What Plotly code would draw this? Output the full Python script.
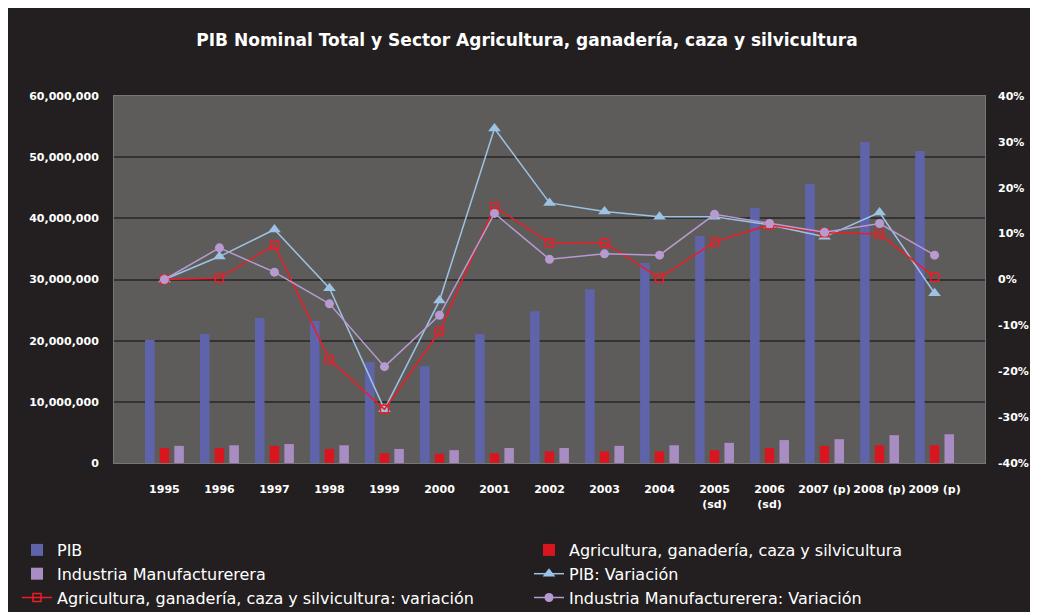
import plotly.graph_objects as go

years = ["1995", "1996", "1997", "1998", "1999", "2000", "2001", "2002", "2003",
         "2004", "2005<br>(sd)", "2006<br>(sd)", "2007 (p)", "2008 (p)", "2009 (p)"]

pib = [20.1e6, 21.1e6, 23.7e6, 23.2e6, 16.5e6, 15.8e6, 21.1e6, 24.8e6, 28.4e6,
       32.7e6, 37.1e6, 41.7e6, 45.6e6, 52.5e6, 51.0e6]
agri = [2.45e6, 2.45e6, 2.8e6, 2.3e6, 1.6e6, 1.5e6, 1.6e6, 1.9e6, 1.9e6,
        1.9e6, 2.1e6, 2.45e6, 2.8e6, 2.9e6, 2.9e6]
ind = [2.8e6, 2.9e6, 3.1e6, 2.9e6, 2.3e6, 2.1e6, 2.45e6, 2.45e6, 2.8e6,
       2.9e6, 3.3e6, 3.75e6, 3.9e6, 4.55e6, 4.7e6]

pib_var = [0.0, 5.0, 10.9, -1.9, -28.3, -4.6, 32.9, 16.7, 14.8, 13.7, 13.7, 11.9, 9.3, 14.6, -3.0]
agri_var = [0.0, 0.3, 7.5, -17.5, -28.3, -11.4, 15.9, 8.0, 8.0, 0.3, 8.2, 11.9, 10.2, 9.9, 0.5]
ind_var = [0.0, 6.9, 1.6, -5.3, -19.0, -7.8, 14.4, 4.4, 5.6, 5.3, 14.2, 12.2, 10.3, 12.2, 5.3]

y2_ticks = [-40, -30, -20, -10, 0, 10, 20, 30, 40]
y2_labels = ["-40%", "-30%", "-20%", "-10%", "0%", "10%", "20%", "30%", "40%"]

BG = "#231f20"
PLOT = "#5d5c5a"
FONT = "DejaVu Sans"
TICKFONT = dict(family=FONT, size=11, color="white", weight="bold")

fig = go.Figure()
fig.add_trace(go.Bar(x=years, y=pib, name="PIB", legend="legend",
                     marker=dict(color="#5f63aa", line=dict(width=0))))
fig.add_trace(go.Bar(x=years, y=agri, name="Agricultura, ganadería, caza y silvicultura", legend="legend2",
                     marker=dict(color="#d9161f", line=dict(width=0))))
fig.add_trace(go.Bar(x=years, y=ind, name="Industria Manufacturerera", legend="legend",
                     marker=dict(color="#a88cc2", line=dict(width=0))))
fig.add_trace(go.Scatter(x=years, y=pib_var, name="PIB: Variación", yaxis="y2", mode="lines+markers",
                         legend="legend2",
                         line=dict(color="#9cc3e6", width=1.5),
                         marker=dict(symbol="triangle-up", size=11, color="#9cc3e6")))
fig.add_trace(go.Scatter(x=years, y=agri_var, name="Agricultura, ganadería, caza y silvicultura: variación",
                         yaxis="y2", mode="lines+markers", legend="legend",
                         line=dict(color="#ee1c25", width=1.5),
                         marker=dict(symbol="square-open", size=8, color="#ee1c25", line=dict(width=1.5))))
fig.add_trace(go.Scatter(x=years, y=ind_var, name="Industria Manufacturerera: Variación", yaxis="y2",
                         mode="lines+markers", legend="legend2",
                         line=dict(color="#b79bd0", width=1.5),
                         marker=dict(symbol="circle", size=9, color="#b79bd0")))

LEG = dict(orientation="v", xref="container", yref="container", xanchor="left",
           y=1 - 525 / 612, yanchor="top", tracegroupgap=0, itemwidth=30,
           font=dict(family=FONT, size=16, color="white"), bgcolor="rgba(0,0,0,0)",
           traceorder="normal")

fig.update_layout(
    width=1038, height=612,
    paper_bgcolor=BG, plot_bgcolor=PLOT,
    margin=dict(l=106, r=61, t=88, b=157, autoexpand=False),
    title=dict(text="<b>PIB Nominal Total y Sector Agricultura, ganadería, caza y silvicultura</b>",
               x=0.5, xanchor="center", y=1 - 32 / 612, yanchor="middle",
               font=dict(family=FONT, size=17, color="white")),
    barmode="group", bargap=0.2, bargroupgap=0.35,
    font=dict(family=FONT, color="white"),
    xaxis=dict(type="category", showgrid=False, tickfont=TICKFONT,
               ticks="", showline=True, mirror=True, linecolor="#767676", linewidth=1,
               ticklabelstandoff=16),
    yaxis=dict(range=[0, 60e6], dtick=10e6, tickformat=",d", showgrid=True, gridcolor="#333333",
               gridwidth=1.5, zeroline=False, tickfont=TICKFONT,
               ticklabelstandoff=12, showline=True, mirror=True, linecolor="#767676", linewidth=1),
    yaxis2=dict(overlaying="y", side="right", range=[-40, 40], tickvals=y2_ticks, ticktext=y2_labels,
                showgrid=False, zeroline=False, tickfont=TICKFONT, ticklabelstandoff=12),
    legend=dict(LEG, x=9 / 1038),
    legend2=dict(LEG, x=521 / 1038),
    showlegend=True,
)

fig.write_html("out.html")
